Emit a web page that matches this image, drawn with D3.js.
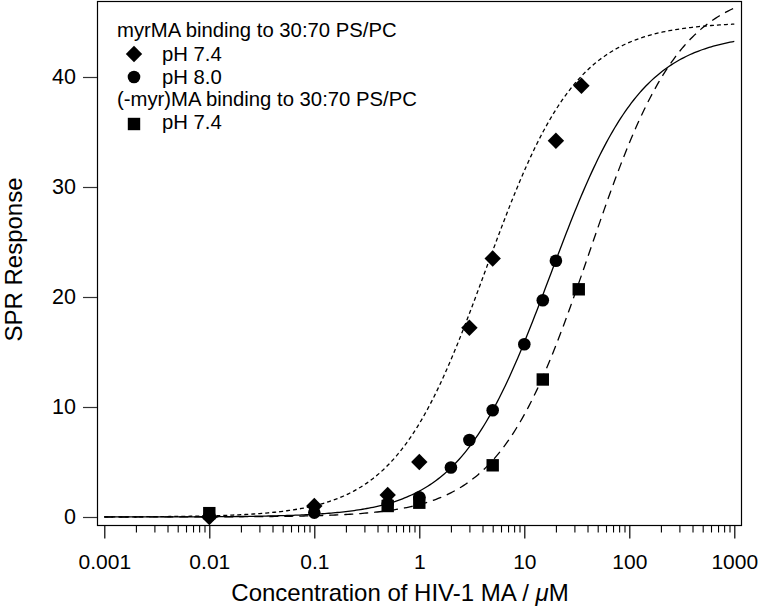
<!DOCTYPE html>
<html>
<head>
<meta charset="utf-8">
<script src="https://cdn.jsdelivr.net/npm/d3@7"></script>
<style>
  html, body { margin: 0; padding: 0; background: #fff; }
  svg { display: block; }
  text { font-family: "Liberation Sans", Arial, Helvetica, sans-serif; fill: #000; }
</style>
</head>
<body>
<svg id="chart" width="761" height="607"></svg>
<script>
// ---- data ----
const xTickValues = [0.001, 0.01, 0.1, 1, 10, 100, 1000];
const xTickLabels = ["0.001", "0.01", "0.1", "1", "10", "100", "1000"];
const yTickValues = [0, 10, 20, 30, 40];

// myrMA, pH 7.4 (diamonds)
const myrPH74X = [0.01, 0.1, 0.5, 1, 3, 5, 20, 35];
const myrPH74Y = [0.0, 1.0, 2.0, 5.0, 17.2, 23.5, 34.2, 39.2];
// myrMA, pH 8.0 (circles)
const myrPH80X = [0.01, 0.1, 0.5, 1, 2, 3, 5, 10, 15, 20];
const myrPH80Y = [0.1, 0.4, 1.2, 1.8, 4.5, 7.0, 9.7, 15.7, 19.7, 23.3];
// (-myr)MA, pH 7.4 (squares)
const nonmyrPH74X = [0.01, 0.5, 1, 5, 15, 33];
const nonmyrPH74Y = [0.35, 1.0, 1.3, 4.7, 12.5, 20.7];

// fitted binding curves: [Bmax, Kd, Hill n]
const fitMyrPH74 = [45.0, 4.3, 1.0];
const fitMyrPH80 = [44.0, 17.7, 1.0];
const fitNonmyrPH74 = [48.2, 41.8, 1.0];

const legendTitles = ["myrMA binding to 30:70 PS/PC", "(-myr)MA binding to 30:70 PS/PC"];
const legendLabels = ["pH 7.4", "pH 8.0", "pH 7.4"];

// ---- layout ----
const svg = d3.select("#chart");
const frame = { left: 97, right: 741, top: 1, bottom: 525 };

const x = d3.scaleLog().domain([0.001, 1000]).range([104.3, 734.3]);
const y = d3.scaleLinear().domain([0, 40]).range([517, 77]);

// frame
svg.append("rect")
  .attr("x", frame.left + 0.5).attr("y", frame.top + 0.5)
  .attr("width", frame.right - frame.left).attr("height", frame.bottom - frame.top)
  .attr("fill", "none").attr("stroke", "#000").attr("stroke-width", 1.2);

// x axis: major ticks
const xAxis = d3.axisBottom(x)
  .tickValues(xTickValues)
  .tickFormat((d, i) => xTickLabels[i])
  .tickSizeInner(13).tickSizeOuter(0).tickPadding(16);
const gx = svg.append("g").attr("transform", `translate(0,${frame.bottom + 0.5})`).call(xAxis);
gx.select(".domain").remove();
gx.selectAll("text").attr("font-size", 21).attr("font-family", "Liberation Sans, Arial, sans-serif");
gx.selectAll("line").attr("stroke", "#000").attr("stroke-width", 1.2);

// minor ticks
const minor = [];
for (let p = -3; p < 3; p++) for (let m = 2; m <= 9; m++) minor.push(m * Math.pow(10, p));
const xMinor = d3.axisBottom(x).tickValues(minor).tickFormat("").tickSizeInner(7).tickSizeOuter(0);
const gxm = svg.append("g").attr("transform", `translate(0,${frame.bottom + 0.5})`).call(xMinor);
gxm.select(".domain").remove();
gxm.selectAll("line").attr("stroke", "#000").attr("stroke-width", 1.1);

// y axis
const yAxis = d3.axisLeft(y).tickValues(yTickValues).tickSizeInner(14).tickSizeOuter(0).tickPadding(7);
const gy = svg.append("g").attr("transform", `translate(${frame.left},0)`).call(yAxis);
gy.select(".domain").remove();
gy.selectAll("text").attr("font-size", 21.5).attr("font-family", "Liberation Sans, Arial, sans-serif");
gy.selectAll("line").attr("stroke", "#333").attr("stroke-width", 1.2);

// axis titles
const xt = svg.append("text")
  .attr("x", 400).attr("y", 601)
  .attr("text-anchor", "middle").attr("font-size", 24);
xt.append("tspan").text("Concentration of HIV-1 MA / ");
xt.append("tspan").attr("font-style", "italic").text("\u03bc");
xt.append("tspan").text("M");

svg.append("text")
  .attr("transform", "translate(22,259.5) rotate(-90)")
  .attr("text-anchor", "middle").attr("font-size", 24)
  .text("SPR Response");

// curves
const hill = p => v => p[0] * Math.pow(v, p[2]) / (Math.pow(p[1], p[2]) + Math.pow(v, p[2]));
const sampleX = d3.range(0, 301).map(i => Math.pow(10, -3 + 6 * i / 300));
const line = f => d3.line().x(d => x(d)).y(d => y(f(d)));
const plot = svg.append("g");

plot.append("path").attr("d", line(hill(fitMyrPH74))(sampleX))
  .attr("fill", "none").attr("stroke", "#000").attr("stroke-width", 1.3).attr("stroke-dasharray", "4,3");
plot.append("path").attr("d", line(hill(fitMyrPH80))(sampleX))
  .attr("fill", "none").attr("stroke", "#000").attr("stroke-width", 1.3);
plot.append("path").attr("d", line(hill(fitNonmyrPH74))(sampleX))
  .attr("fill", "none").attr("stroke", "#000").attr("stroke-width", 1.3).attr("stroke-dasharray", "9,6");

// markers
function drawDiamond(g, cx, cy, r) {
  g.append("path").attr("d", `M${cx},${cy - r}L${cx + r},${cy}L${cx},${cy + r}L${cx - r},${cy}Z`).attr("fill", "#000");
}
function drawCircle(g, cx, cy, r) {
  g.append("circle").attr("cx", cx).attr("cy", cy).attr("r", r).attr("fill", "#000");
}
function drawSquare(g, cx, cy, h) {
  g.append("rect").attr("x", cx - h).attr("y", cy - h).attr("width", 2 * h).attr("height", 2 * h).attr("fill", "#000");
}

myrPH80X.forEach((v, i) => drawCircle(plot, x(v), y(myrPH80Y[i]), 6.3));
nonmyrPH74X.forEach((v, i) => drawSquare(plot, x(v), y(nonmyrPH74Y[i]), 6.2));
myrPH74X.forEach((v, i) => drawDiamond(plot, x(v), y(myrPH74Y[i]), 8.2));

// legend
const lg = svg.append("g");
const lfs = 20.3;
lg.append("text").attr("x", 117).attr("y", 37).attr("font-size", lfs).text(legendTitles[0]);
drawDiamond(lg, 134, 54, 8.2);
lg.append("text").attr("x", 162).attr("y", 61).attr("font-size", lfs).text(legendLabels[0]);
drawCircle(lg, 134, 77, 6.3);
lg.append("text").attr("x", 162).attr("y", 84).attr("font-size", lfs).text(legendLabels[1]);
lg.append("text").attr("x", 117).attr("y", 106).attr("font-size", lfs).text(legendTitles[1]);
drawSquare(lg, 134, 124, 6.2);
lg.append("text").attr("x", 162).attr("y", 129).attr("font-size", lfs).text(legendLabels[2]);
</script>
</body>
</html>
